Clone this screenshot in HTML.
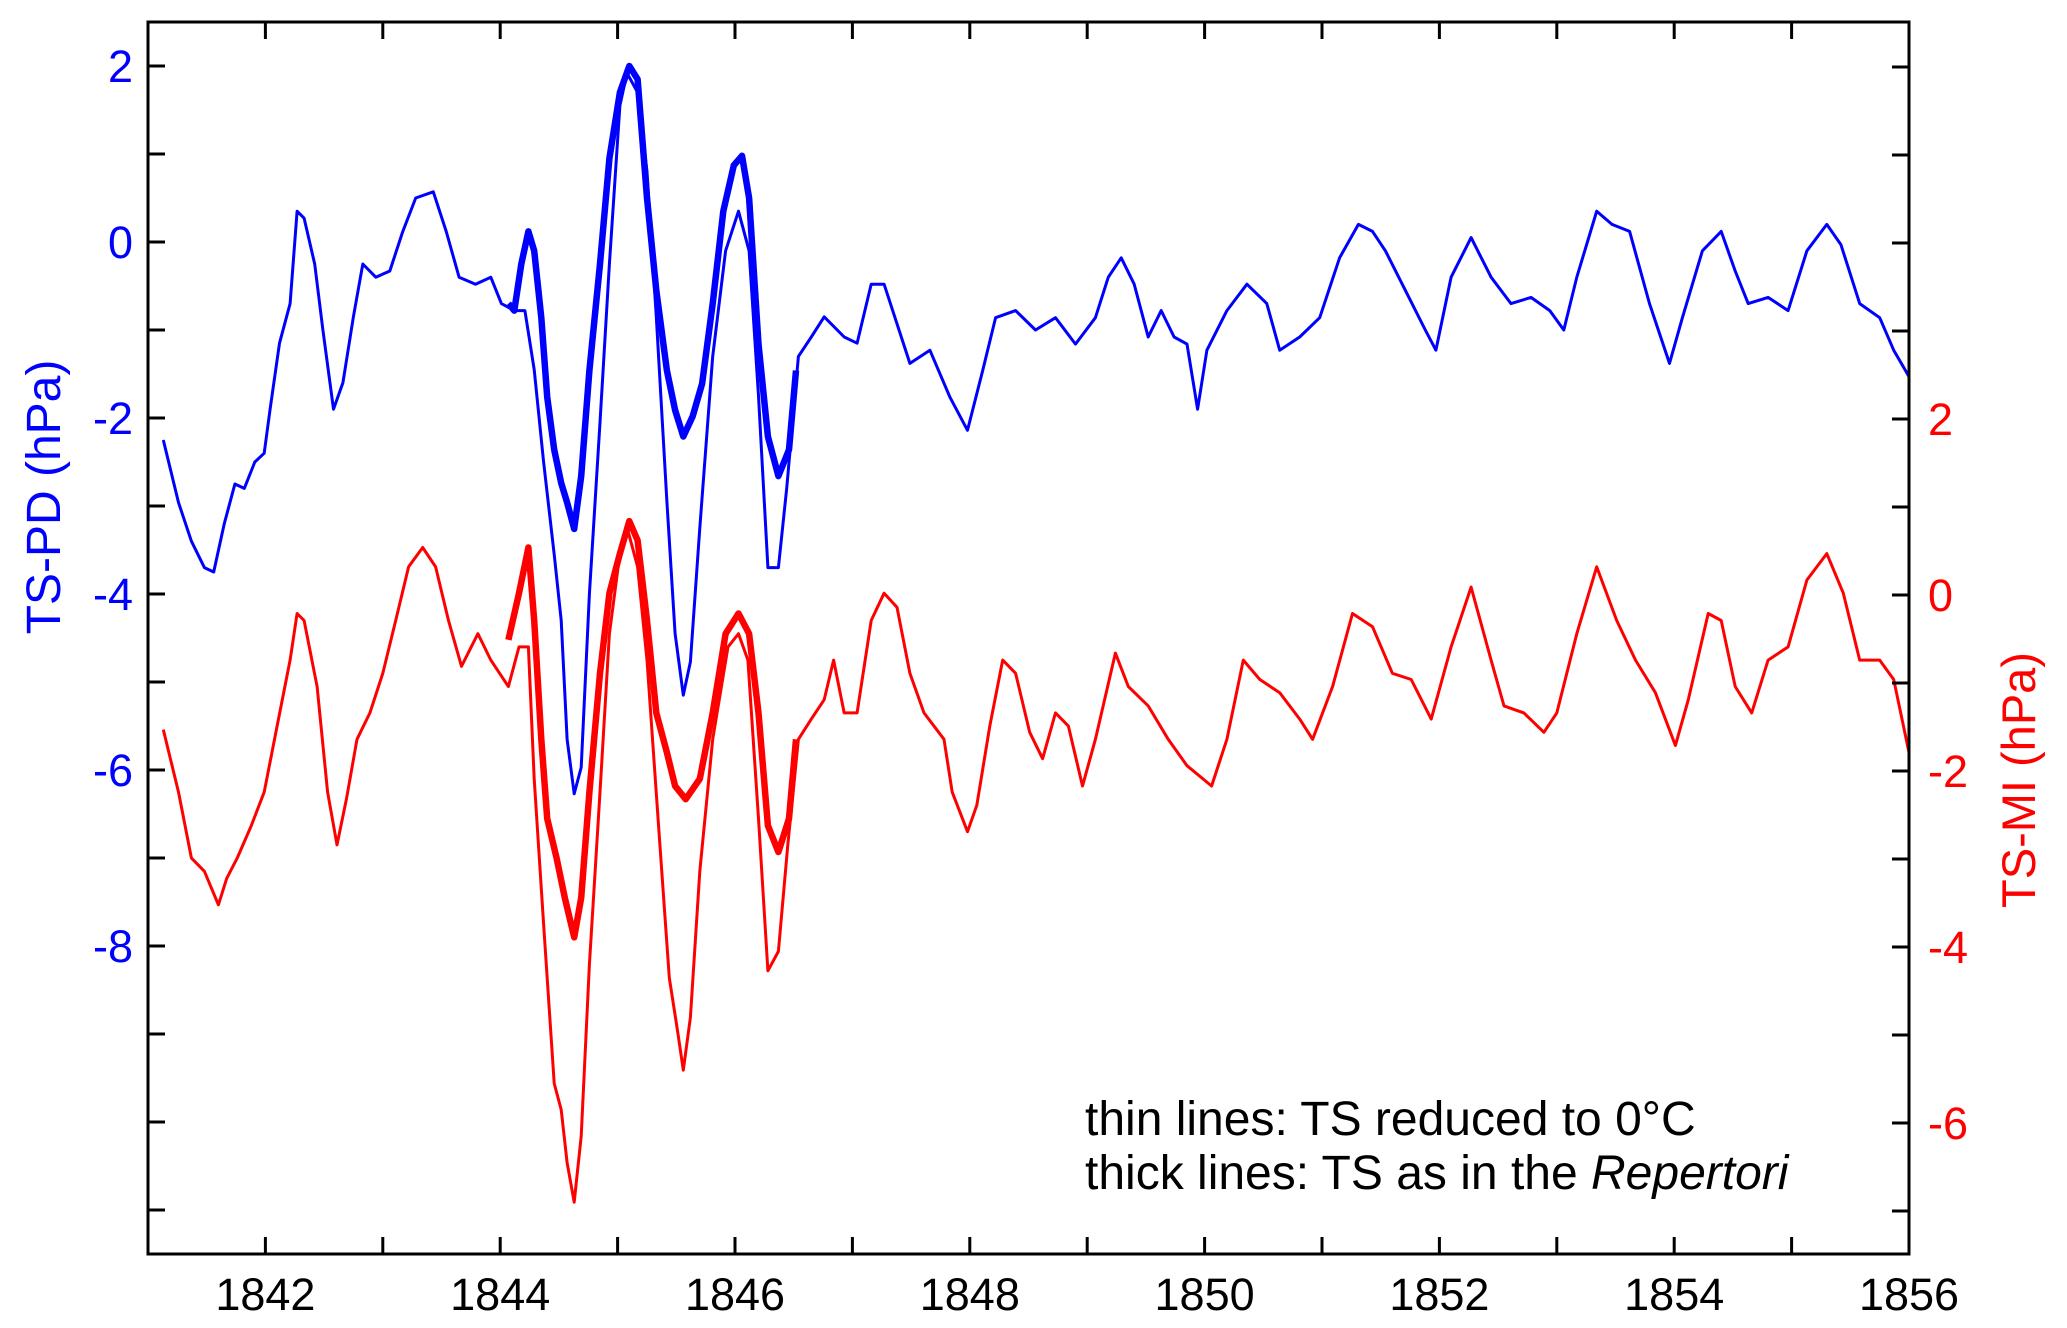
<!DOCTYPE html>
<html><head><meta charset="utf-8"><style>
html,body{margin:0;padding:0;background:#fff;}
svg{display:block;font-family:"Liberation Sans",Arial,sans-serif;}
</style></head><body>
<svg id="chart" width="2067" height="1328" viewBox="0 0 2067 1328" xmlns="http://www.w3.org/2000/svg">
<g id="series"></g>
<g id="axes"></g>
<text x="0" y="0" transform="translate(60,497) rotate(-90)" text-anchor="middle" font-size="48" fill="#0000ff">TS-PD (hPa)</text>
<text x="0" y="0" transform="translate(2035,780) rotate(-90)" text-anchor="middle" font-size="47" fill="#ff0000">TS-MI (hPa)</text>
<text x="1085" y="1135" font-size="48" fill="#000">thin lines: TS reduced to 0°C</text>
<text x="1085" y="1189" font-size="48" fill="#000">thick lines: TS as in the <tspan font-style="italic">Repertori</tspan></text>
</svg>
<script>
// years after 1841
const blueThinT=[0.13,0.26,0.37,0.48,0.56,0.65,0.74,0.82,0.91,0.99,1.04,1.12,1.21,1.27,1.33,1.42,1.49,1.58,1.66,1.75,1.83,1.94,2.06,2.17,2.28,2.43,2.54,2.65,2.79,2.92,3.01,3.12,3.21,3.29,3.37,3.46,3.52,3.57,3.63,3.69,3.76,3.85,3.93,4.02,4.08,4.17,4.25,4.33,4.42,4.49,4.56,4.62,4.70,4.81,4.92,5.03,5.12,5.20,5.28,5.37,5.44,5.54,5.65,5.76,5.93,6.04,6.16,6.27,6.38,6.49,6.66,6.83,6.98,7.11,7.22,7.39,7.56,7.73,7.90,8.07,8.18,8.29,8.40,8.52,8.63,8.74,8.85,8.94,9.02,9.19,9.36,9.53,9.64,9.81,9.98,10.15,10.31,10.43,10.54,10.71,10.88,10.97,11.10,11.27,11.44,11.61,11.78,11.94,12.06,12.17,12.34,12.47,12.62,12.79,12.96,13.07,13.24,13.40,13.52,13.63,13.80,13.97,14.13,14.30,14.42,14.58,14.75,14.87,15.0];
const blueThinV=[-2.25,-2.96,-3.4,-3.7,-3.75,-3.2,-2.75,-2.8,-2.5,-2.4,-1.9,-1.15,-0.7,0.35,0.27,-0.25,-1.0,-1.9,-1.6,-0.85,-0.25,-0.4,-0.33,0.12,0.5,0.57,0.12,-0.4,-0.48,-0.4,-0.7,-0.78,-0.78,-1.45,-2.5,-3.55,-4.3,-5.65,-6.27,-5.97,-4.0,-2.05,-0.25,1.55,1.92,1.7,0.8,-0.85,-2.95,-4.45,-5.15,-4.77,-3.25,-1.3,-0.1,0.35,-0.1,-1.75,-3.7,-3.7,-2.8,-1.3,-1.08,-0.85,-1.08,-1.15,-0.48,-0.48,-0.93,-1.38,-1.23,-1.76,-2.14,-1.46,-0.86,-0.78,-1.0,-0.86,-1.16,-0.86,-0.4,-0.18,-0.48,-1.08,-0.78,-1.08,-1.16,-1.9,-1.23,-0.78,-0.48,-0.7,-1.23,-1.08,-0.86,-0.18,0.2,0.12,-0.1,-0.55,-1.0,-1.23,-0.4,0.05,-0.4,-0.7,-0.63,-0.78,-1.0,-0.4,0.35,0.2,0.12,-0.7,-1.38,-0.86,-0.1,0.12,-0.33,-0.7,-0.63,-0.78,-0.1,0.2,-0.03,-0.7,-0.86,-1.23,-1.53];
const blueThickT=[3.07,3.12,3.18,3.24,3.29,3.35,3.40,3.46,3.52,3.57,3.63,3.69,3.76,3.85,3.93,4.02,4.10,4.17,4.25,4.33,4.42,4.49,4.56,4.64,4.72,4.81,4.90,4.99,5.06,5.12,5.20,5.28,5.37,5.46,5.52];
const blueThickV=[-0.7,-0.78,-0.25,0.12,-0.1,-0.86,-1.76,-2.36,-2.74,-2.96,-3.26,-2.66,-1.46,-0.25,0.95,1.7,2.0,1.85,0.5,-0.55,-1.46,-1.91,-2.21,-1.98,-1.61,-0.7,0.35,0.87,0.98,0.5,-1.16,-2.21,-2.66,-2.36,-1.46];
const redThinT=[0.13,0.26,0.37,0.48,0.60,0.67,0.76,0.88,0.99,1.10,1.21,1.27,1.33,1.44,1.53,1.61,1.69,1.78,1.89,2.00,2.11,2.22,2.34,2.45,2.56,2.67,2.81,2.92,3.07,3.16,3.24,3.29,3.37,3.46,3.52,3.57,3.63,3.69,3.76,3.85,3.93,4.02,4.08,4.17,4.25,4.36,4.44,4.51,4.56,4.62,4.70,4.81,4.94,5.03,5.11,5.20,5.28,5.37,5.45,5.54,5.65,5.76,5.84,5.93,6.04,6.16,6.27,6.38,6.49,6.61,6.78,6.85,6.98,7.06,7.17,7.28,7.39,7.51,7.62,7.73,7.84,7.96,8.07,8.24,8.35,8.52,8.69,8.85,9.06,9.19,9.33,9.47,9.64,9.81,9.92,10.09,10.26,10.43,10.60,10.76,10.93,11.10,11.27,11.44,11.55,11.72,11.89,12.00,12.17,12.34,12.51,12.67,12.84,13.01,13.12,13.29,13.40,13.52,13.66,13.80,13.97,14.13,14.30,14.44,14.58,14.75,14.87,15.0];
const redThinV=[-1.53,-2.24,-2.99,-3.14,-3.52,-3.22,-2.99,-2.62,-2.24,-1.49,-0.74,-0.21,-0.29,-1.04,-2.24,-2.84,-2.32,-1.64,-1.34,-0.89,-0.29,0.32,0.54,0.32,-0.29,-0.81,-0.44,-0.74,-1.04,-0.59,-0.59,-2.09,-3.74,-5.55,-5.85,-6.45,-6.9,-6.15,-4.2,-2.24,-0.44,0.47,0.77,0.32,-0.74,-2.84,-4.35,-4.95,-5.4,-4.8,-3.14,-1.64,-0.59,-0.44,-0.74,-2.54,-4.27,-4.05,-2.84,-1.64,-1.41,-1.19,-0.74,-1.34,-1.34,-0.29,0.02,-0.14,-0.89,-1.34,-1.64,-2.24,-2.69,-2.39,-1.49,-0.74,-0.89,-1.56,-1.86,-1.34,-1.49,-2.17,-1.64,-0.66,-1.04,-1.26,-1.64,-1.94,-2.17,-1.64,-0.74,-0.96,-1.11,-1.41,-1.64,-1.04,-0.21,-0.36,-0.89,-0.96,-1.41,-0.59,0.09,-0.74,-1.26,-1.34,-1.56,-1.34,-0.44,0.32,-0.29,-0.74,-1.11,-1.71,-1.19,-0.21,-0.29,-1.04,-1.34,-0.74,-0.59,0.17,0.47,0.02,-0.74,-0.74,-0.96,-1.79];
const redThickT=[3.07,3.16,3.24,3.29,3.35,3.40,3.48,3.55,3.63,3.69,3.76,3.85,3.93,4.02,4.10,4.17,4.25,4.33,4.42,4.49,4.58,4.70,4.81,4.92,5.03,5.12,5.20,5.28,5.37,5.46,5.52];
const redThickV=[-0.51,0.02,0.54,-0.29,-1.64,-2.54,-2.99,-3.44,-3.89,-3.44,-2.24,-0.89,0.02,0.47,0.84,0.62,-0.29,-1.34,-1.79,-2.17,-2.32,-2.09,-1.34,-0.44,-0.21,-0.44,-1.34,-2.62,-2.92,-2.54,-1.64];
const xTickLabels=[1842,1844,1846,1848,1850,1852,1854,1856];
const leftTickLabels=[2,0,-2,-4,-6,-8];
const rightTickLabels=[2,0,-2,-4,-6];

const NS='http://www.w3.org/2000/svg';
const L=148,R=1909,T=22,B=1254;
const X=y=>L+(y-1841)*(R-L)/15;
const YL=v=>242-88*v;
const YR=v=>595-88*v;
const seriesG=document.getElementById('series');
const axesG=document.getElementById('axes');
function el(tag,attrs,parent){const e=document.createElementNS(NS,tag);for(const k in attrs)e.setAttribute(k,attrs[k]);parent.appendChild(e);return e;}
function line(ts,vs,yf,color,w,name){
  const d=ts.map((t,i)=>(i?'L':'M')+X(1841+t).toFixed(1)+','+yf(vs[i]).toFixed(1)).join('');
  const p=el('path',{d:d,fill:'none',stroke:color,'stroke-width':w,'stroke-linejoin':'round'},seriesG);
  
  
}
line(blueThinT,blueThinV,YL,'#0000ff',3,'ts-pd-thin-line');
line(blueThickT,blueThickV,YL,'#0000ff',6.5,'ts-pd-thick-line');
line(redThinT,redThinV,YR,'#ff0000',3,'ts-mi-thin-line');
line(redThickT,redThickV,YR,'#ff0000',6.5,'ts-mi-thick-line');

const frame=el('rect',{x:L,y:T,width:R-L,height:B-T,fill:'none',stroke:'#000','stroke-width':3},axesG);


for(let yr=1842;yr<=1855;yr++){
  const x=X(yr);
  el('line',{x1:x,x2:x,y1:B,y2:B-17,stroke:'#000','stroke-width':3},axesG);
  el('line',{x1:x,x2:x,y1:T,y2:T+17,stroke:'#000','stroke-width':3},axesG);
}
xTickLabels.forEach(yr=>{
  const t=el('text',{x:X(yr),y:1310,'text-anchor':'middle','font-size':45,fill:'#000'},axesG);
  t.textContent=yr;
  
  
});
for(let v=-11;v<=2;v++){const y=YL(v);el('line',{x1:L,x2:L+17,y1:y,y2:y,stroke:'#000','stroke-width':3},axesG);}
for(let v=-7;v<=6;v++){const y=YR(v);el('line',{x1:R,x2:R-17,y1:y,y2:y,stroke:'#000','stroke-width':3},axesG);}
leftTickLabels.forEach(v=>{
  const t=el('text',{x:133,y:YL(v)+16,'text-anchor':'end','font-size':45,fill:'#0000ff'},axesG);
  t.textContent=v;
  
  
});
rightTickLabels.forEach(v=>{
  const t=el('text',{x:1928,y:YR(v)+16,'text-anchor':'start','font-size':45,fill:'#ff0000'},axesG);
  t.textContent=v;
  
  
});
</script>
</body></html>
